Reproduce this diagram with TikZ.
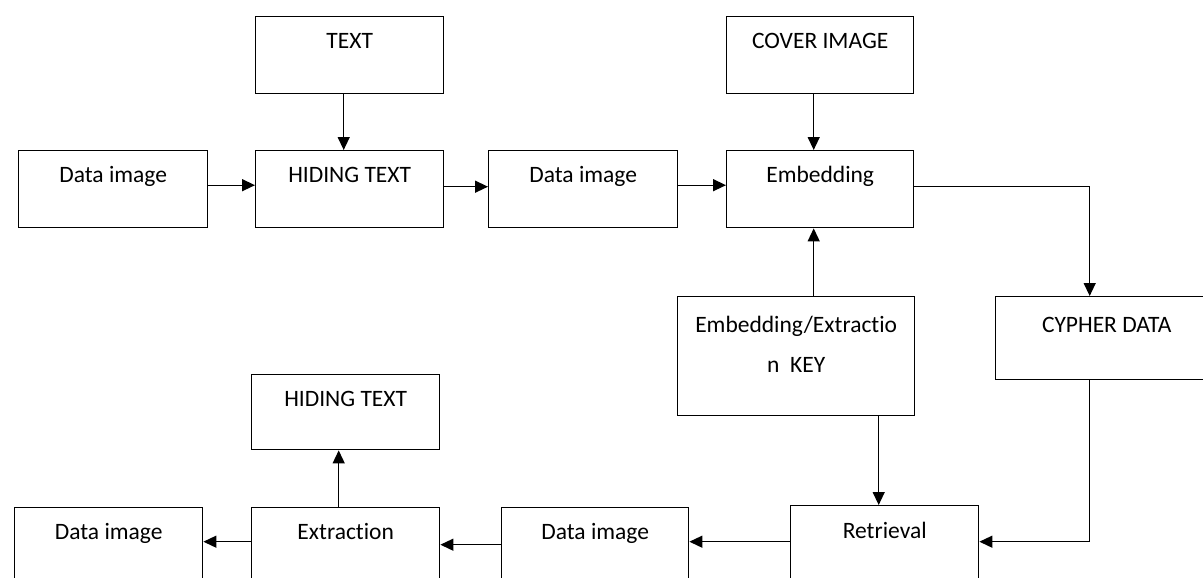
\documentclass[tikz,border=0pt]{standalone}
\usepackage{fontspec}
\setmainfont{Carlito}[Ligatures=NoCommon]
\usetikzlibrary{arrows.meta}
\begin{document}
\begin{tikzpicture}[x=1pt,y=-1pt,
  box/.style={draw, line width=1.4pt, rectangle, inner sep=0pt, anchor=north west,
    minimum width=188pt, text height=32pt, text depth=45pt,
    font=\fontsize{23.5}{28}\selectfont},
  arr/.style={line width=1.4pt, -{Triangle[length=13pt,width=12pt]}}]
\useasboundingbox (0,0) rectangle (1203,578);
\clip (0,0) rectangle (1203,578);
% top row
\node[box] (text)  at (255,16)  {TEXT};
\node[box, minimum width=187pt] (cover) at (726,16) {COVER IMAGE};
\node[box, minimum width=189pt] (d1)   at (18,150)  {Data image};
\node[box] (hide)  at (255,150) {HIDING TEXT};
\node[box, minimum width=189pt] (d2)   at (488,150) {Data image};
\node[box, minimum width=187pt] (emb)  at (726,150) {Embedding};
% middle row
\node[box, minimum width=237pt, text height=76pt, text depth=43pt, align=center,
  font=\fontsize{23.5}{40}\selectfont] (key) at (677,296) {Embedding/Extract\kern0pt io\\n\ \ KEY};
\node[box, minimum width=222pt, text height=36pt, text depth=47pt] (cyph) at (995,296) {CYPHER DATA};
\node[box, text depth=43pt] (hide2) at (251,374) {HIDING TEXT};
% bottom row
\node[box] (d3)   at (14,507)  {Data image};
\node[box] (extr) at (251,507) {Extract\kern0pt ion};
\node[box, minimum width=187pt] (d4)   at (501,507) {Data image};
\node[box, text height=33pt, text depth=46pt] (retr) at (790,505) {Retrieval};
% connectors
\draw[arr] ([xshift=-6pt]text.south) -- ([xshift=-6pt]hide.north);
\draw[arr] ([xshift=-6.5pt]cover.south) -- ([xshift=-6.5pt]emb.north);
\draw[arr] ([yshift=4pt]d1.east) -- ([yshift=4pt]hide.west);
\draw[arr] ([yshift=2.5pt]hide.east) -- ([yshift=2.5pt]d2.west);
\draw[arr] ([yshift=4pt]d2.east) -- ([yshift=4pt]emb.west);
\draw[arr] ([yshift=2.5pt]emb.east) -| ([xshift=-17pt]cyph.north);
\draw[arr] ([xshift=17.5pt]key.north) -- ([xshift=-6.5pt]emb.south);
\draw[arr] ([xshift=82.5pt]key.south) -- ([xshift=-6pt]retr.north);
\draw[arr] ([xshift=-17pt]cyph.south) |- ([yshift=3.5pt]retr.east);
\draw[arr] ([yshift=3.5pt]retr.west) -- ([yshift=4.5pt]d4.east);
\draw[arr] ([yshift=1.5pt]d4.west) -- ([yshift=1.5pt]extr.east);
\draw[arr] ([yshift=4.5pt]extr.west) -- ([yshift=4.5pt]d3.east);
\draw[arr] ([xshift=-7pt]extr.north) -- ([xshift=-7pt]hide2.south);
\end{tikzpicture}
\end{document}
